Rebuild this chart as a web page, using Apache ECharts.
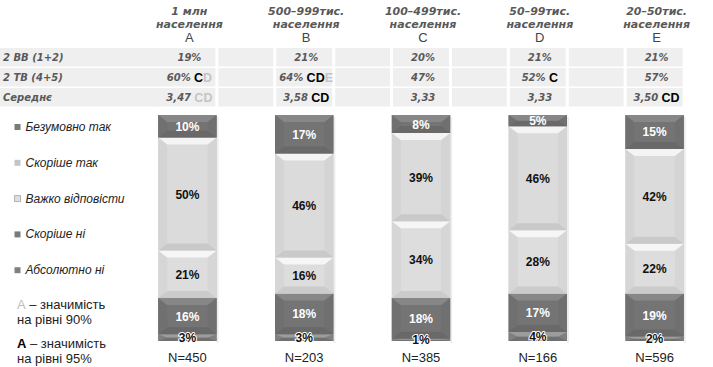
<!DOCTYPE html>
<html>
<head>
<meta charset="utf-8">
<script src="https://cdn.jsdelivr.net/npm/echarts@6/dist/echarts.min.js"></script>
<style>
  html, body { margin: 0; padding: 0; background: #fff; }
  #chart { width: 713px; height: 367px; }
</style>
</head>
<body>
<div id="chart"></div>
<script>
// City-size groups (columns)
const groupLine1 = ['1 млн', '500–999тис.', '100–499тис.', '50–99тис.', '20–50тис.'];
const groupLine2 = ['населення', 'населення', 'населення', 'населення', 'населення'];
const groupLetters = ['A', 'B', 'C', 'D', 'E'];
const sampleSizes = ['N=450', 'N=203', 'N=385', 'N=166', 'N=596'];

// Answer shares, % (bottom to top of each stack)
const answers = ['Абсолютно ні', 'Скоріше ні', 'Важко відповісти', 'Скоріше так', 'Безумовно так'];
const absolutelyNo = [3, 3, 1, 4, 2];
const ratherNo = [16, 18, 18, 17, 19];
const hardToSay = [21, 16, 34, 28, 22];
const ratherYes = [50, 46, 39, 46, 42];
const definitelyYes = [10, 17, 8, 5, 15];

// Summary rows above the bars
const rowLabels = ['2 BB (1+2)', '2 TB (4+5)', 'Середнє'];
const bottomTwo = ['19%', '21%', '20%', '21%', '21%'];
const topTwo = ['60%', '64%', '47%', '52%', '57%'];
const topTwoSig95 = ['C', 'CD', '', 'C', ''];
const topTwoSig90 = ['D', 'E', '', '', ''];
const meanScore = ['3,47', '3,58', '3,33', '3,33', '3,50'];
const meanSig95 = ['', 'CD', '', '', 'CD'];
const meanSig90 = ['CD', '', '', '', ''];

const FONT = 'Liberation Sans, Arial, sans-serif';
const WIDE = 'DejaVu Sans, Verdana, sans-serif';
const seriesValues = [absolutelyNo, ratherNo, hardToSay, ratherYes, definitelyYes];

// Bevelled fill palette for each answer
const palettes = [
  { base: '#888888', top: '#9c9c9c', bottom: '#707070', side: '#808080', label: '#111', outline: '#fff', legend: '#808080' },
  { base: '#747474', top: '#878787', bottom: '#696969', side: '#707070', label: '#fff', legend: '#7a7a7a' },
  { base: '#dddddd', top: '#f6f6f6', bottom: '#cbcbcb', side: '#d6d6d6', label: '#111', legend: '#e0e0e0' },
  { base: '#dbdbdb', top: '#f4f4f4', bottom: '#c9c9c9', side: '#d4d4d4', label: '#111', legend: '#c4c4c4' },
  { base: '#747474', top: '#878787', bottom: '#696969', side: '#707070', label: '#fff', legend: '#7a7a7a' }
];

// Cumulative stacks: [groupIndex, from, to, value]
const cum = [0, 0, 0, 0, 0];
const stackedData = seriesValues.map(vals => vals.map((v, i) => {
  const item = [i, cum[i], cum[i] + v, v];
  cum[i] += v;
  return item;
}));

function makeRenderItem(k) {
  const pal = palettes[k];
  return function (params, api) {
    const i = api.value(0), lo = api.value(1), hi = api.value(2), v = api.value(3);
    const pLo = api.coord([i, lo]);
    const pHi = api.coord([i, hi]);
    const bw = api.size([1, 0])[0] * 0.5;
    const x0 = pLo[0] - bw / 2, x1 = x0 + bw;
    const y0 = pHi[1], y1 = pLo[1];
    const h = y1 - y0;
    const bv = Math.min(7, h / 2);
    const bh = Math.min(9, bw / 2);
    const children = [
      { type: 'rect', shape: { x: x0, y: y0, width: bw, height: h }, style: { fill: pal.base } },
      { type: 'polygon', shape: { points: [[x0, y0], [x0 + bh, y0 + bv], [x0 + bh, y1 - bv], [x0, y1]] }, style: { fill: pal.side } },
      { type: 'polygon', shape: { points: [[x1, y0], [x1 - bh, y0 + bv], [x1 - bh, y1 - bv], [x1, y1]] }, style: { fill: pal.side } },
      { type: 'polygon', shape: { points: [[x0, y1], [x1, y1], [x1 - bh, y1 - bv], [x0 + bh, y1 - bv]] }, style: { fill: pal.bottom } },
      { type: 'polygon', shape: { points: [[x0, y0], [x1, y0], [x1 - bh, y0 + bv], [x0 + bh, y0 + bv]] }, style: { fill: pal.top } },
      { type: 'rect', shape: { x: x1, y: y0 + 2, width: 2, height: h }, style: { fill: 'rgba(0,0,0,0.07)' } }
    ];
    const labelStyle = {
      text: v + '%', x: pLo[0], y: (y0 + y1) / 2 + 0.5,
      align: 'center', verticalAlign: 'middle',
      font: 'bold 12px ' + FONT, fill: pal.label
    };
    if (pal.outline) { labelStyle.stroke = pal.outline; labelStyle.lineWidth = 2; }
    children.push({ type: 'text', style: labelStyle, z2: 10 });
    return { type: 'group', children: children };
  };
}

const chart = echarts.init(document.getElementById('chart'), null, { renderer: 'svg' });

const series = answers.map((name, k) => ({
  name: name,
  type: 'custom',
  renderItem: makeRenderItem(k),
  itemStyle: { color: palettes[k].legend },
  encode: { x: 0, y: [1, 2] },
  data: stackedData[k],
  silent: true
}));

chart.setOption({
  animation: false,
  grid: { left: 129, top: 115, width: 591, height: 226 },
  xAxis: {
    type: 'category',
    data: sampleSizes,
    axisLine: { show: false },
    axisTick: { show: false },
    axisLabel: { color: '#222', fontFamily: FONT, fontSize: 13, margin: 10 }
  },
  yAxis: { type: 'value', min: 0, max: 100, show: false, splitLine: { show: false } },
  legend: {
    orient: 'vertical',
    left: 14,
    top: 120,
    padding: 0,
    itemWidth: 6,
    itemHeight: 6,
    itemGap: 21.8,
    icon: 'rect',
    selectedMode: false,
    data: answers.slice().reverse().map(n => {
      const k = answers.indexOf(n);
      const d = { name: n, itemStyle: { color: palettes[k].legend } };
      if (k === 2) { d.itemStyle.borderColor = '#b0b0b0'; d.itemStyle.borderWidth = 1; }
      return d;
    }),
    textStyle: { fontFamily: FONT, fontSize: 12, fontStyle: 'italic', color: '#222', lineHeight: 14 }
  },
  series: series
});

// Summary table and column headers aligned with the category axis
const centers = groupLetters.map((_, i) => chart.convertToPixel({ xAxisIndex: 0 }, i));
const graphics = [];
const rowTops = [48, 68, 88];
const rowH = 18.5;
const cellHalf = 28;
const cellFill = '#efefef';
const grey = '#595959';

rowTops.forEach((yt, r) => {
  graphics.push({ type: 'rect', shape: { x: 0, y: yt, width: 160, height: rowH }, style: { fill: cellFill }, silent: true });
  graphics.push({
    type: 'text', x: 3, y: yt + rowH / 2 + 0.5,
    style: { text: rowLabels[r], font: 'italic bold 10px ' + WIDE, fill: grey, verticalAlign: 'middle' },
    silent: true
  });
  centers.forEach((c, i) => {
    graphics.push({ type: 'rect', shape: { x: c - cellHalf, y: yt, width: cellHalf * 2, height: rowH }, style: { fill: cellFill }, silent: true });
    if (i < centers.length - 1) {
      const gx0 = c + cellHalf + 3, gx1 = centers[i + 1] - cellHalf - 3;
      graphics.push({ type: 'rect', shape: { x: gx0, y: yt, width: gx1 - gx0, height: rowH }, style: { fill: cellFill }, silent: true });
    }
  });
});

const rich = {
  v: { fontFamily: WIDE, fontSize: 10, fontStyle: 'italic', fontWeight: 'bold', fill: grey },
  s95: { fontFamily: FONT, fontSize: 12.5, fontWeight: 'bold', fill: '#000' },
  s90: { fontFamily: FONT, fontSize: 12.5, fontWeight: 'bold', fill: '#c4c4c4' }
};
function cellText(val, s95, s90) {
  let t = '{v|' + val + '}';
  if (s95 || s90) t += ' ';
  if (s95) t += '{s95|' + s95 + '}';
  if (s90) t += '{s90|' + s90 + '}';
  return t;
}

centers.forEach((c, i) => {
  // column header
  graphics.push({
    type: 'text', x: c + 2, y: 5,
    style: {
      text: '{h|' + groupLine1[i] + '}\n{h|' + groupLine2[i] + '}\n{l|' + groupLetters[i] + '}',
      align: 'center', verticalAlign: 'top',
      rich: {
        h: { fontFamily: WIDE, fontSize: 11, fontStyle: 'italic', fontWeight: 'bold', fill: grey, lineHeight: 13, align: 'center' },
        l: { fontFamily: FONT, fontSize: 13, fill: '#444', lineHeight: 13, align: 'center' }
      }
    },
    silent: true
  });
  const rows = [cellText(bottomTwo[i], '', ''), cellText(topTwo[i], topTwoSig95[i], topTwoSig90[i]), cellText(meanScore[i], meanSig95[i], meanSig90[i])];
  rows.forEach((t, r) => {
    graphics.push({
      type: 'text', x: c + 2, y: rowTops[r] + rowH / 2 + 0.5,
      style: { text: t, align: 'center', verticalAlign: 'middle', rich: rich },
      silent: true
    });
  });
});

// Significance notes
const noteRich = {
  a90: { fontFamily: FONT, fontSize: 13, fill: '#bdbdbd' },
  a95: { fontFamily: FONT, fontSize: 13, fontWeight: 'bold', fill: '#000' },
  t: { fontFamily: FONT, fontSize: 13, fill: '#222' }
};
graphics.push({ type: 'text', x: 17, y: 304, style: { text: '{a90|A}{t| – значимість}', verticalAlign: 'middle', rich: noteRich }, silent: true });
graphics.push({ type: 'text', x: 17, y: 319, style: { text: '{t|на рівні 90%}', verticalAlign: 'middle', rich: noteRich }, silent: true });
graphics.push({ type: 'text', x: 17, y: 343, style: { text: '{a95|A}{t| – значимість}', verticalAlign: 'middle', rich: noteRich }, silent: true });
graphics.push({ type: 'text', x: 17, y: 358, style: { text: '{t|на рівні 95%}', verticalAlign: 'middle', rich: noteRich }, silent: true });

chart.setOption({ graphic: graphics });
</script>
</body>
</html>
